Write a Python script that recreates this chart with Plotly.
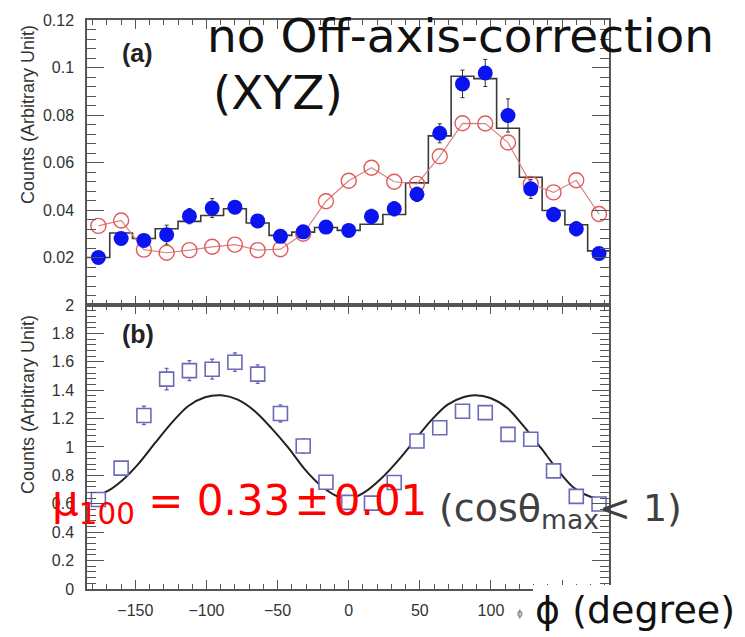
import plotly.graph_objects as go
from plotly.subplots import make_subplots

# ---------------- data ----------------
phi = [-176, -160, -144, -128, -112, -96, -80, -64, -48, -32, -16, 0,
       16, 32, 48, 64, 80, 96, 112, 128, 144, 160, 176]
bin_half = 8

# panel (a): measured (blue dots)
meas = [0.0200, 0.0280, 0.0272, 0.0296, 0.0374, 0.0408, 0.0412, 0.0354, 0.0289,
        0.0308, 0.0328, 0.0314, 0.0373, 0.0405, 0.0466, 0.0723, 0.0931, 0.0977,
        0.0798, 0.0489, 0.0381, 0.0321, 0.0217]
meas_err = [0.0010, 0.0015, 0.0015, 0.0040, 0.0032, 0.0040, 0.0020, 0.0020, 0.0015,
            0.0020, 0.0020, 0.0020, 0.0030, 0.0030, 0.0030, 0.0040, 0.0058, 0.0057,
            0.0070, 0.0040, 0.0030, 0.0030, 0.0020]
# panel (a): simulation histogram (black steps)
hist = [0.0200, 0.0303, 0.0280, 0.0321, 0.0352, 0.0377, 0.0405, 0.0345, 0.0293,
        0.0307, 0.0326, 0.0314, 0.0340, 0.0381, 0.0514, 0.0712, 0.0963, 0.0953,
        0.0744, 0.0538, 0.0398, 0.0338, 0.0228]
# panel (a): red open circles
nocorr = [0.0333, 0.0356, 0.0233, 0.0220, 0.0231, 0.0245, 0.0254, 0.0231, 0.0235,
          0.0300, 0.0437, 0.0523, 0.0578, 0.0519, 0.0510, 0.0626, 0.0765, 0.0764,
          0.0684, 0.0510, 0.0474, 0.0525, 0.0383]

# panel (b): ratio (open squares)
ratio = [0.630, 0.851, 1.222, 1.478, 1.538, 1.548, 1.597, 1.513, 1.236, 1.007,
         0.752, 0.610, 0.605, 0.750, 1.042, 1.135, 1.252, 1.242, 1.089, 1.054,
         0.832, 0.652, 0.599]
ratio_err = [0.03, 0.03, 0.065, 0.075, 0.07, 0.07, 0.065, 0.065, 0.06, 0.05,
             0.03, 0.03, 0.03, 0.03, 0.03, 0.03, 0.03, 0.03, 0.03, 0.03,
             0.03, 0.03, 0.03]
# panel (b): fitted modulation curve
fit_phi = [-180, -169, -159.5, -148, -136, -124.5, -113, -101, -89.5, -78, -66,
           -54.5, -42.5, -31, -19.5, -7.5, 0.5, 11, 22.5, 34.5, 46, 57.5, 69.5,
           81, 89, 99.5, 111.5, 123, 135, 146.5, 158, 170, 180]
fit_val = [0.645, 0.692, 0.762, 0.879, 1.030, 1.170, 1.287, 1.350, 1.364, 1.333,
           1.252, 1.135, 0.995, 0.844, 0.727, 0.650, 0.634, 0.680, 0.774, 0.902,
           1.042, 1.182, 1.298, 1.352, 1.364, 1.345, 1.275, 1.147, 0.995, 0.844,
           0.715, 0.650, 0.634]

top_ticks = [0.02, 0.04, 0.06, 0.08, 0.10, 0.12]
top_ticktext = ["0.02", "0.04", "0.06", "0.08", "0.1", "0.12"]
x_ticks = [-150, -100, -50, 0, 50, 100, 150]

# ---------------- figure ----------------
W, H = 745, 637
L, R, T, B = 87, 136, 14, 48
PW, PH = W - L - R, H - T - B


def px(x):
    return (x - L) / PW


def py(y):
    return (H - B - y) / PH


fig = make_subplots(rows=2, cols=1, shared_xaxes=True, vertical_spacing=0)

edges = [p - bin_half for p in phi] + [phi[-1] + bin_half]
fig.add_trace(go.Scatter(x=edges, y=hist + [hist[-1]], mode="lines",
                         line=dict(shape="hv", color="#3a3a3a", width=1.6),
                         hoverinfo="skip", showlegend=False), row=1, col=1)
fig.add_trace(go.Scatter(x=phi, y=nocorr, mode="lines+markers",
                         line=dict(color="#dc8080", width=1.2),
                         marker=dict(symbol="circle-open", size=15,
                                     color="#e05a5a", line=dict(width=1.4)),
                         showlegend=False), row=1, col=1)
fig.add_trace(go.Scatter(x=phi, y=meas, mode="markers",
                         error_y=dict(type="data", array=meas_err, color="#333333",
                                      thickness=1, width=2),
                         marker=dict(symbol="circle", size=15, color="#0b14f0"),
                         showlegend=False), row=1, col=1)

fig.add_trace(go.Scatter(x=fit_phi, y=fit_val, mode="lines",
                         line=dict(shape="spline", smoothing=0.8, color="#222222", width=2),
                         showlegend=False), row=2, col=1)
fig.add_trace(go.Scatter(x=phi, y=ratio, mode="markers",
                         error_y=dict(type="data", array=ratio_err, color="#6a6ab8",
                                      thickness=1.3, width=2),
                         marker=dict(symbol="square", size=14, color="white",
                                     line=dict(width=1.6, color="#6a6ab8")),
                         showlegend=False), row=2, col=1)

split = py(302)
axis_common = dict(showline=True, linecolor="#555555", linewidth=1.5,
                   mirror="allticks", ticks="inside", tickcolor="#555555",
                   showgrid=False, zeroline=False)

fig.update_xaxes(range=[-184, 183], tickvals=x_ticks, ticklen=9, tickwidth=1.2,
                 minor=dict(ticks="inside", tickmode="linear", tick0=0, dtick=10,
                            ticklen=5, tickcolor="#555555", showgrid=False),
                 **axis_common)
fig.update_xaxes(showticklabels=False, row=1, col=1)
fig.update_xaxes(showticklabels=True, ticklabelstandoff=6,
                 tickfont=dict(size=16, color="#333333"), row=2, col=1)

fig.update_yaxes(range=[0, 0.12], tickvals=top_ticks, ticktext=top_ticktext,
                 ticklen=17, tickwidth=1.2, ticklabelstandoff=8,
                 tickfont=dict(size=16, color="#333333"),
                 minor=dict(ticks="inside", tickmode="linear", tick0=0, dtick=0.004,
                            ticklen=9, tickcolor="#555555", showgrid=False),
                 domain=[split, 1], row=1, col=1, **axis_common)
fig.update_yaxes(range=[0, 2], tick0=0, dtick=0.2,
                 ticklen=17, tickwidth=1.2, ticklabelstandoff=8,
                 tickfont=dict(size=16, color="#333333"),
                 minor=dict(ticks="inside", tickmode="linear", tick0=0, dtick=0.04,
                            ticklen=9, tickcolor="#555555", showgrid=False),
                 domain=[0, split], row=2, col=1, **axis_common)

ann = []
title_font = dict(family="Liberation Sans, Arial", size=18, color="#333333")
ann.append(dict(x=px(28), y=py(110), text="Counts (Arbitrary Unit)", textangle=-90,
                font=title_font))
ann.append(dict(x=px(28), y=py(403), text="Counts (Arbitrary Unit)", textangle=-90,
                font=title_font))
lab_font = dict(family="Liberation Sans, Arial", size=25, color="#222222")
ann.append(dict(x=px(137), y=py(47), text="<b>(a)</b>", font=lab_font))
ann.append(dict(x=px(138), y=py(331), text="<b>(b)</b>", font=lab_font))

big = "DejaVu Sans"
ann.append(dict(x=px(205), y=py(30), xanchor="left", text="no Off-axis-correction",
                font=dict(family=big, size=47, color="#111111")))
ann.append(dict(x=px(211), y=py(87), xanchor="left", text="(XYZ)",
                font=dict(family=big, size=47, color="#111111")))
ann.append(dict(x=px(50), y=py(503), xanchor="left",
                text="μ<sub>100</sub> = 0.33\u200a±\u200a0.01",
                font=dict(family=big, size=42, color="#ff0000")))
ann.append(dict(x=px(437), y=py(510), xanchor="left",
                text="(cosθ<sub>max</sub>&lt; 1)",
                font=dict(family=big, size=38, color="#404040")))
ann.append(dict(x=px(520), y=py(614), text="ϕ",
                font=dict(family="Liberation Sans", size=10, color="#666666")))
ann.append(dict(x=px(533), y=py(610), xanchor="left", text="ϕ (degree)",
                font=dict(family=big, size=38, color="#111111")))
for a in ann:
    a.update(xref="paper", yref="paper", showarrow=False)
    a.setdefault("xanchor", "center")
    a.setdefault("yanchor", "middle")

fig.update_layout(
    width=W, height=H, margin=dict(l=L, r=R, t=T, b=B),
    paper_bgcolor="white", plot_bgcolor="white",
    font=dict(family="Liberation Sans, Arial", color="#333333"),
    annotations=ann,
    shapes=[dict(type="rect", xref="paper", yref="paper",
                 x0=px(533), x1=px(760), y0=py(640), y1=py(585),
                 fillcolor="white", line=dict(width=0), layer="above")],
)

fig.write_html("out.html")
